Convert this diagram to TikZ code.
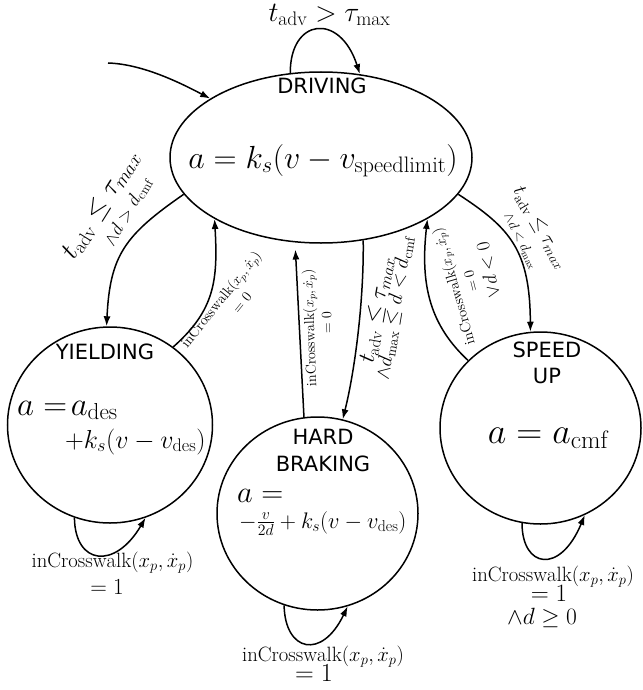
\RequirePackage{fix-cm}
\documentclass[tikz,border=0pt]{standalone}
\usepackage{fontspec}
\newfontfamily\dvs{DejaVu Sans}
\usetikzlibrary{arrows.meta,shapes.geometric}
\newcommand\fsz[1]{\fontsize{#1}{#1}\selectfont}
\newcommand\inCW{\mathrm{inCrosswalk}(x_p,\dot{x}_p)}
\tikzset{
  state/.style={draw, ellipse, line width=1.5pt, inner sep=0pt},
  edge/.style={draw, line width=1.5pt, -{Latex[length=10pt,width=7pt]}},
  sans/.style={font=\dvs\fsz{21}, inner sep=0pt, anchor=center},
  lab/.style={inner sep=0pt, anchor=center},
}
\begin{document}
\begin{tikzpicture}[x=1pt,y=-1pt]
\useasboundingbox (0,0) rectangle (642,690);
% states
\node[state, minimum width=302pt, minimum height=171pt] (drv) at (321,157.5) {};
\node[state, minimum width=205pt, minimum height=196pt] (yld) at (110,425) {};
\node[state, minimum width=201pt, minimum height=193pt] (hrd) at (317.5,513.5) {};
\node[state, minimum width=201pt, minimum height=192pt] (spd) at (540.5,428) {};
% state texts
\node[sans] (tdrv) at (322,86) {DRIVING};
\node[lab, font=\fsz{32}, anchor=base] (fdrv) at (323,168) {$a = k_s(v - v_{\mathrm{speedlimit}})$};
\node[sans] (tyld) at (105,352) {YIELDING};
\node[lab, font=\fsz{33}, anchor=base west] (fy1) at (17,415) {$a =\!a_{\mathrm{des}}$};
\node[lab, font=\fsz{26}, anchor=base west] (fy2) at (65,448) {$+k_s(v - v_{\mathrm{des}})$};
\node[sans] (thrd1) at (323,437) {HARD};
\node[sans] (thrd2) at (323,464) {BRAKING};
\node[lab, font=\fsz{30.5}, anchor=base west] (fh1) at (237,502) {$a =$};
\node[lab, font=\fsz{22.5}, anchor=base west] (fh2) at (239,528) {$-\frac{v}{2d} + k_s(v - v_{\mathrm{des}})$};
\node[sans] (tspd1) at (547,350) {SPEED};
\node[sans] (tspd2) at (547,375.5) {UP};
\node[lab, font=\fsz{36}, anchor=base] (fs) at (548,443) {$a = a_{\mathrm{cmf}}$};
% connectors
\coordinate (init) at (108,63);
\draw[edge] (init) .. controls (140,64) and (175,80) .. (drv.152.8);
\draw[edge] (drv.110.3) .. controls (290,18) and (340,12) .. (drv.65.9);
\draw[edge] (drv.195.5) .. controls (125,235) and (110,255) .. (yld.92);
\draw[edge] (yld.51.4) .. controls (215,310) and (218,280) .. (drv.210);
\draw[edge, shorten >=7pt] (hrd.98.5) -- (drv.253.5);
\draw[edge] (drv.297) .. controls (364,300) and (355,370) .. (hrd.75.9);
\draw[edge] (drv.345.5) .. controls (510,228) and (530,250) .. (spd.96.8);
\draw[edge] (spd.137.9) .. controls (430,325) and (420,285) .. (drv.330);
\draw[edge] (yld.249) .. controls (75,565) and (115,570) .. (yld.291);
\draw[edge] (hrd.250.8) .. controls (285,652) and (322,660) .. (hrd.288.6);
\draw[edge] (spd.259.4) .. controls (522,568) and (560,575) .. (spd.297.6);
% connector labels
\node[lab, font=\fsz{28}] (lloop) at (329.5,15) {$t_{\mathrm{adv}} > \tau_{\mathrm{max}}$};
\node[lab, font=\fsz{27.4}, rotate=58] (ldy1) at (101,205) {$t_{\mathrm{adv}} \leq \tau_{max}$};
\node[lab, font=\fsz{18.5}, rotate=60] (ldy2) at (128,212) {$\wedge d > d_{\mathrm{cmf}}$};
\node[lab, font=\fsz{14.4}, rotate=51] (lyd1) at (222,300) {$\inCW$};
\node[lab, font=\fsz{14.4}, rotate=51] (lyd2) at (242,303) {$=0$};
\node[lab, font=\fsz{14.2}, rotate=92] (lhd1) at (311,328) {$\inCW$};
\node[lab, font=\fsz{14.2}, rotate=92] (lhd2) at (327,323) {$=0$};
\node[lab, font=\fsz{23.8}, rotate=80] (ldh1) at (377,310) {$t_{\mathrm{adv}} \leq \tau_{max}$};
\node[lab, font=\fsz{20}, rotate=80.5] (ldh2) at (395,308) {$\wedge d_{\mathrm{max}} \leq d < d_{\mathrm{cmf}}$};
\node[lab, font=\fsz{14.7}, rotate=106] (lsd1) at (455,286) {$\inCW$};
\node[lab, font=\fsz{14.5}, rotate=104] (lsd2) at (471,281) {$=0$};
\node[lab, font=\fsz{19}, rotate=102] (lsd3) at (488,270) {$\vee d < 0$};
\node[lab, font=\fsz{19.9}, rotate=-60] (lds1) at (540,228) {$t_{\mathrm{adv}} \leq \tau_{max}$};
\node[lab, font=\fsz{13.9}, rotate=-63] (lds2) at (521,241) {$\wedge d < d_{\mathrm{max}}$};
\node[lab, font=\fsz{20.7}] (lyy1) at (112.5,563) {$\inCW$};
\node[lab, font=\fsz{23}] (lyy2) at (107,587) {$=1$};
\node[lab, font=\fsz{20.7}] (lhh1) at (323,657) {$\inCW$};
\node[lab, font=\fsz{26}] (lhh2) at (314,673) {$=1$};
\node[lab, font=\fsz{20.7}] (lss1) at (553,577) {$\inCW$};
\node[lab, font=\fsz{25}] (lss2) at (549,593) {$=1$};
\node[lab, font=\fsz{23.5}] (lss3) at (542,618) {$\wedge d \geq 0$};
\end{tikzpicture}
\end{document}
